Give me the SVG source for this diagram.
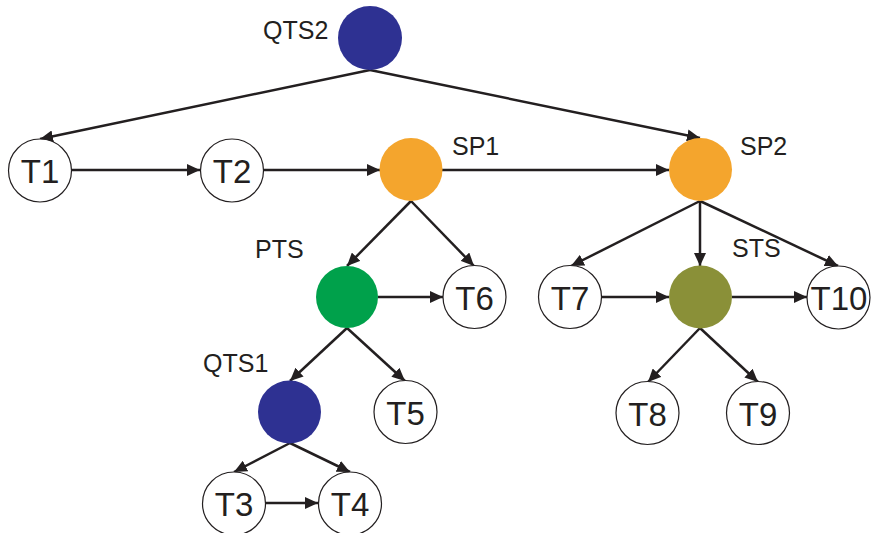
<svg xmlns="http://www.w3.org/2000/svg" width="872" height="533" viewBox="0 0 872 533">
  <style>
    .edge { stroke: #231F20; stroke-width: 2.5; fill: none; marker-end: url(#arrow); }
    .task { fill: #FFFFFF; stroke: #231F20; stroke-width: 1.2; }
    .qts { fill: #2E3192; }
    .sp { fill: #F4A52D; }
    .pts { fill: #00A14B; }
    .sts { fill: #8A9038; }
    .tl { font-family: "Liberation Sans", Arial, sans-serif; font-size: 33px; fill: #231F20; text-anchor: middle; }
    .lbl { font-family: "Liberation Sans", Arial, sans-serif; font-size: 25px; fill: #231F20; }
  </style>
  <defs>
    <marker id="arrow" markerUnits="userSpaceOnUse" markerWidth="14" markerHeight="12" refX="13" refY="6" orient="auto">
      <path d="M0,0 L13,6 L0,12 Z" fill="#231F20"/>
    </marker>
  </defs>
  <rect width="872" height="533" fill="#FFFFFF"/>

  <g id="connectors">
    <line class="edge" x1="370" y1="70" x2="40" y2="139"/>
    <line class="edge" x1="370" y1="70" x2="700" y2="138"/>
    <line class="edge" x1="72" y1="170" x2="200" y2="170"/>
    <line class="edge" x1="264" y1="170" x2="380" y2="170"/>
    <line class="edge" x1="442" y1="170" x2="669" y2="170"/>
    <line class="edge" x1="411" y1="201" x2="347" y2="266"/>
    <line class="edge" x1="411" y1="201" x2="474" y2="266"/>
    <line class="edge" x1="378" y1="297" x2="443" y2="297"/>
    <line class="edge" x1="700" y1="201" x2="571" y2="266"/>
    <line class="edge" x1="700" y1="201" x2="700" y2="266"/>
    <line class="edge" x1="700" y1="201" x2="838" y2="266"/>
    <line class="edge" x1="602" y1="297" x2="669" y2="297"/>
    <line class="edge" x1="732" y1="297" x2="807" y2="297"/>
    <line class="edge" x1="347" y1="328" x2="290" y2="381"/>
    <line class="edge" x1="347" y1="328" x2="405" y2="381"/>
    <line class="edge" x1="700" y1="328" x2="648" y2="382"/>
    <line class="edge" x1="700" y1="328" x2="758" y2="382"/>
    <line class="edge" x1="290" y1="443" x2="234" y2="472"/>
    <line class="edge" x1="290" y1="443" x2="350" y2="472"/>
    <line class="edge" x1="266" y1="503" x2="318" y2="503"/>
  </g>

  <g id="QTS2">
    <circle class="qts" cx="370" cy="38" r="32"/>
    <text class="lbl" x="263" y="39">QTS2</text>
  </g>
  <g id="T1">
    <circle class="task" cx="40" cy="170.5" r="31.5"/>
    <text class="tl" x="40" y="182.5">T1</text>
  </g>
  <g id="T2">
    <circle class="task" cx="232" cy="170.5" r="31.5"/>
    <text class="tl" x="232" y="182.5">T2</text>
  </g>
  <g id="SP1">
    <circle class="sp" cx="411" cy="169.5" r="31.5"/>
    <text class="lbl" x="452" y="155">SP1</text>
  </g>
  <g id="SP2">
    <circle class="sp" cx="700.5" cy="169.5" r="31.5"/>
    <text class="lbl" x="740" y="155">SP2</text>
  </g>
  <g id="PTS">
    <circle class="pts" cx="347" cy="297" r="31"/>
    <text class="lbl" x="255" y="258">PTS</text>
  </g>
  <g id="T6">
    <circle class="task" cx="474.5" cy="297" r="31.5"/>
    <text class="tl" x="474.5" y="309.5">T6</text>
  </g>
  <g id="T7">
    <circle class="task" cx="570" cy="297" r="31.5"/>
    <text class="tl" x="570" y="309.5">T7</text>
  </g>
  <g id="STS">
    <circle class="sts" cx="700.5" cy="297" r="31.5"/>
    <text class="lbl" x="732" y="257">STS</text>
  </g>
  <g id="T10">
    <circle class="task" cx="838.5" cy="297.5" r="31.5"/>
    <text class="tl" x="839" y="309.5">T10</text>
  </g>
  <g id="QTS1">
    <circle class="qts" cx="289.5" cy="412" r="31.5"/>
    <text class="lbl" x="203" y="372">QTS1</text>
  </g>
  <g id="T5">
    <circle class="task" cx="405.5" cy="412" r="31.5"/>
    <text class="tl" x="405.5" y="424.5">T5</text>
  </g>
  <g id="T8">
    <circle class="task" cx="647.5" cy="413" r="31.5"/>
    <text class="tl" x="647.5" y="425.5">T8</text>
  </g>
  <g id="T9">
    <circle class="task" cx="758" cy="413" r="31.5"/>
    <text class="tl" x="758" y="425.5">T9</text>
  </g>
  <g id="T3">
    <circle class="task" cx="234" cy="503.5" r="31.5"/>
    <text class="tl" x="234" y="515.5">T3</text>
  </g>
  <g id="T4">
    <circle class="task" cx="350" cy="503.5" r="31.5"/>
    <text class="tl" x="350" y="515.5">T4</text>
  </g>
</svg>
